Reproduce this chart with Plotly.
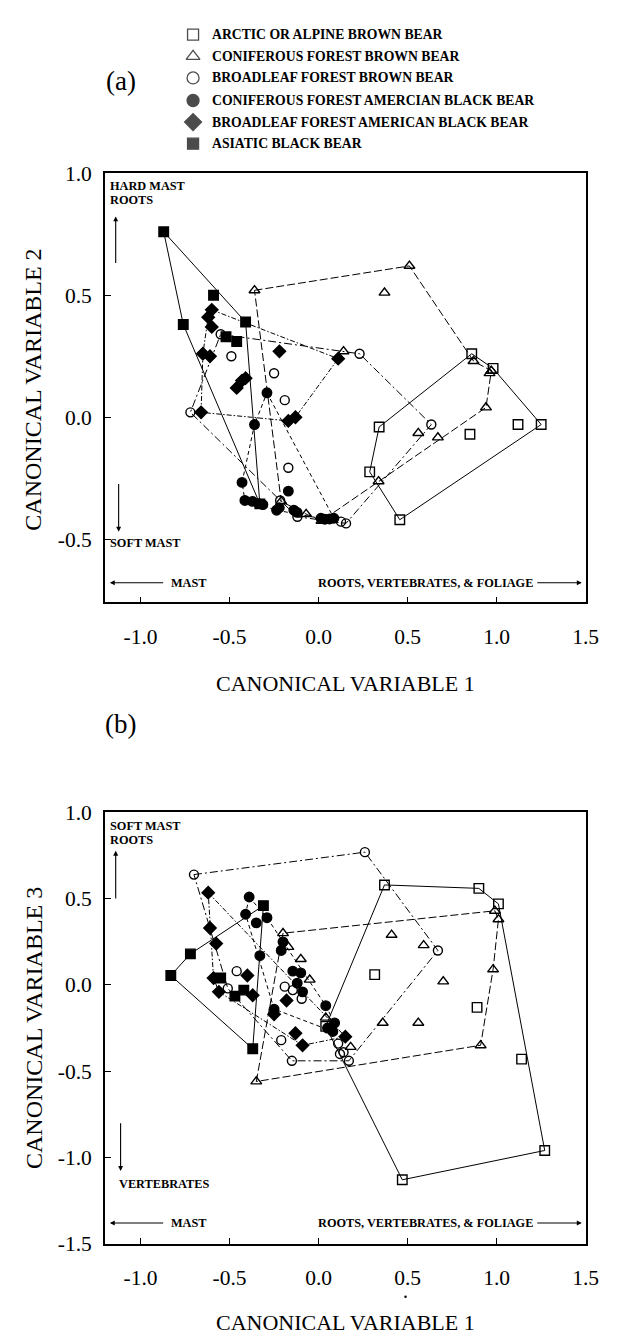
import plotly.graph_objects as go

W, H = 623, 1337
SERIF = "Liberation Serif"

# ---------------- legend / groups ----------------
group_names = [
    "ARCTIC OR ALPINE BROWN BEAR",
    "CONIFEROUS FOREST BROWN BEAR",
    "BROADLEAF FOREST BROWN BEAR",
    "CONIFEROUS FOREST AMERCIAN BLACK BEAR",
    "BROADLEAF FOREST AMERICAN BLACK BEAR",
    "ASIATIC BLACK BEAR",
]
group_symbols = ["square-open", "triangle-up-open", "circle-open", "circle", "diamond", "square"]
group_dashes = ["solid", "8px,3px", "8px,3px,2px,3px", "4px,3px", "5px,2px,1.5px,2px", "solid"]
x_ticks = [-1.0, -0.5, 0.0, 0.5, 1.0, 1.5]
y_ticks_a = [-0.5, 0.0, 0.5, 1.0]
y_ticks_b = [-1.5, -1.0, -0.5, 0.0, 0.5, 1.0]

# ---------------- panel (a): canonical variable 1 vs 2 ----------------
a_arctic_x = [0.86, 0.98, 1.25, 0.456, 0.287, 0.34, 1.12, 0.85]
a_arctic_y = [0.26, 0.20, -0.03, -0.42, -0.224, -0.04, -0.03, -0.07]
a_arctic_hull = [0, 1, 2, 3, 4, 5, 0]

a_conbrown_x = [-0.36, 0.51, 0.87, 0.97, 0.94, 0.337, 0.016, -0.07, -0.21, 0.37, 0.14, 0.96, 0.56, 0.67]
a_conbrown_y = [0.52, 0.62, 0.23, 0.19, 0.04, -0.263, -0.425, -0.397, -0.345, 0.51, 0.27, 0.18, -0.065, -0.083]
a_conbrown_hull = [0, 1, 2, 3, 4, 5, 6, 7, 8, 0]

a_broadbrown_x = [-0.55, 0.23, 0.633, 0.154, 0.126, -0.119, -0.216, -0.72, -0.49, -0.25, -0.19, -0.17]
a_broadbrown_y = [0.34, 0.26, -0.03, -0.435, -0.428, -0.408, -0.341, 0.02, 0.25, 0.18, 0.07, -0.207]
a_broadbrown_hull = [0, 1, 2, 3, 5, 6, 7, 0]

a_conblack_x = [-0.29, 0.086, 0.062, 0.035, -0.236, -0.414, -0.43, -0.36,
                -0.372, -0.335, -0.313, -0.17, -0.221, -0.139, -0.121, 0.013]
a_conblack_y = [0.10, -0.414, -0.417, -0.418, -0.381, -0.341, -0.267, -0.03,
                -0.345, -0.354, -0.358, -0.303, -0.371, -0.381, -0.39, -0.414]
a_conblack_hull = [0, 1, 2, 3, 4, 5, 6, 7, 0]

a_broadblack_x = [-0.60, 0.11, -0.13, -0.17, -0.66, -0.65, -0.62, -0.60, -0.61, -0.22, -0.41, -0.43, -0.46]
a_broadblack_y = [0.44, 0.24, 0.00, -0.015, 0.02, 0.26, 0.41, 0.37, 0.25, 0.27, 0.16, 0.15, 0.12]
a_broadblack_hull = [0, 1, 2, 3, 4, 5, 6, 0]

a_asiatic_x = [-0.87, -0.41, -0.33, -0.76, -0.59, -0.52, -0.46]
a_asiatic_y = [0.76, 0.39, -0.355, 0.38, 0.50, 0.33, 0.31]
a_asiatic_hull = [0, 1, 2, 3, 0]

# ---------------- panel (b): canonical variable 1 vs 3 ----------------
b_arctic_x = [0.37, 0.90, 1.01, 1.27, 0.47, 0.04, 0.315, 0.89, 1.14]
b_arctic_y = [0.58, 0.56, 0.47, -0.96, -1.13, -0.24, 0.06, -0.13, -0.43]
b_arctic_hull = [0, 1, 2, 3, 4, 5, 0]

b_conbrown_x = [-0.35, -0.20, 0.99, 1.01, 0.98, 0.91, -0.17, -0.10, -0.05, 0.04, 0.18,
                0.41, 0.59, 0.70, 0.36, 0.56]
b_conbrown_y = [-0.56, 0.30, 0.43, 0.38, 0.09, -0.35, 0.22, 0.15, 0.03, -0.19, -0.36,
                0.29, 0.23, 0.02, -0.22, -0.22]
b_conbrown_hull = [0, 1, 2, 3, 4, 5, 0]

b_broadbrown_x = [-0.70, 0.26, 0.67, 0.17, -0.15, -0.51, -0.46, -0.19, -0.145, -0.095,
                  -0.21, 0.11, 0.14, 0.12]
b_broadbrown_y = [0.64, 0.77, 0.20, -0.44, -0.44, -0.02, 0.08, -0.01, -0.03, -0.08,
                  -0.32, -0.34, -0.39, -0.40]
b_broadbrown_hull = [0, 1, 2, 3, 4, 5, 0]

b_conblack_x = [-0.39, -0.29, 0.04, 0.09, 0.08, -0.25, -0.41, -0.35, -0.33, -0.20, -0.21,
                -0.145, -0.10, -0.12, -0.09, 0.05]
b_conblack_y = [0.51, 0.39, -0.12, -0.22, -0.27, -0.14, 0.41, 0.36, 0.17, 0.25, 0.20,
                0.08, 0.07, 0.01, -0.04, -0.25]
b_conblack_hull = [0, 1, 2, 3, 4, 5, 6, 0]

b_broadblack_x = [-0.62, 0.15, -0.09, -0.56, -0.59, -0.61, -0.575, -0.37, -0.13, -0.18, -0.25, -0.40]
b_broadblack_y = [0.535, -0.30, -0.35, -0.04, 0.04, 0.33, 0.24, -0.06, -0.28, -0.09, -0.17, 0.055]
b_broadblack_hull = [0, 1, 2, 3, 4, 5, 0]

b_asiatic_x = [-0.31, -0.72, -0.83, -0.37, -0.55, -0.42, -0.47]
b_asiatic_y = [0.46, 0.18, 0.055, -0.37, 0.04, -0.03, -0.065]
b_asiatic_hull = [0, 1, 2, 3, 0]

panel_a = [
    (a_arctic_x, a_arctic_y, a_arctic_hull),
    (a_conbrown_x, a_conbrown_y, a_conbrown_hull),
    (a_broadbrown_x, a_broadbrown_y, a_broadbrown_hull),
    (a_conblack_x, a_conblack_y, a_conblack_hull),
    (a_broadblack_x, a_broadblack_y, a_broadblack_hull),
    (a_asiatic_x, a_asiatic_y, a_asiatic_hull),
]
panel_b = [
    (b_arctic_x, b_arctic_y, b_arctic_hull),
    (b_conbrown_x, b_conbrown_y, b_conbrown_hull),
    (b_broadbrown_x, b_broadbrown_y, b_broadbrown_hull),
    (b_conblack_x, b_conblack_y, b_conblack_hull),
    (b_broadblack_x, b_broadblack_y, b_broadblack_hull),
    (b_asiatic_x, b_asiatic_y, b_asiatic_hull),
]

fig = go.Figure()
marker_sizes = [9.5, 9.5, 9, 9.5, 9.5, 9.5]

for panel, xa, ya in [(panel_a, "x", "y"), (panel_b, "x2", "y2")]:
    for gi, (xs, ys, hull) in enumerate(panel):
        fig.add_trace(go.Scatter(
            x=[xs[i] for i in hull], y=[ys[i] for i in hull],
            mode="lines", line=dict(color="black", width=1, dash=group_dashes[gi]),
            xaxis=xa, yaxis=ya, showlegend=False, hoverinfo="skip"))
    for gi, (xs, ys, hull) in enumerate(panel):
        fig.add_trace(go.Scatter(
            x=xs, y=ys, mode="markers",
            marker=dict(symbol=group_symbols[gi], size=marker_sizes[gi], color="black",
                        line=dict(color="black", width=1.4)),
            xaxis=xa, yaxis=ya, showlegend=False, name=group_names[gi]))

# ---- pixel overlay axis (x3/y3) for legend, labels and arrows ----
leg_rows = [16, 38, 60, 83, 105, 127]
leg_sym_x = 189
leg_text_x = 206
fig.add_trace(go.Scatter(
    x=[leg_sym_x] * len(group_names), y=leg_rows, mode="markers",
    marker=dict(symbol=group_symbols, size=[11, 12, 12, 12, 13, 11], color="black",
                line=dict(color="black", width=1.3)),
    xaxis="x3", yaxis="y3", showlegend=False, hoverinfo="skip"))

# scan speck under the bottom x axis labels
fig.add_trace(go.Scatter(
    x=[406], y=[1301], mode="markers", marker=dict(symbol="circle", size=2.5, color="black"),
    xaxis="x3", yaxis="y3", showlegend=False, hoverinfo="skip"))

ann = []


def txt(x, y, s, font, xanchor="center", yanchor="middle", angle=0):
    ann.append(dict(x=x, y=y, xref="x3", yref="y3", text=s, showarrow=False,
                    xanchor=xanchor, yanchor=yanchor, textangle=angle, font=font))


def arrow(x0, y0, x1, y1):
    ann.append(dict(x=x1, y=y1, ax=x0, ay=y0, xref="x3", yref="y3", axref="x3", ayref="y3",
                    text="", showarrow=True, arrowhead=2, arrowsize=0.9, arrowwidth=1.1,
                    arrowcolor="black", standoff=0, startstandoff=0))


for name, yy in zip(group_names, leg_rows):
    txt(leg_text_x, yy, "<b>%s</b>" % name, dict(family=SERIF, size=13.7, color="black"), xanchor="left")

txt(115, 63, "(a)", dict(family=SERIF, size=27, color="black"))
txt(115, 718, "(b)", dict(family=SERIF, size=27, color="black"))

X0, X1 = 99, 590
a_top, a_bot = 157, 594
b_top, b_bot = 808, 1247
small = dict(family=SERIF, size=12.3, color="black")


def panel_text(top_label, bottom_label, top_px, up_head, up_tail, dn_x, dn_top, dn_bot,
               bottom_label_x, bottom_label_y, row):
    for i, t in enumerate(top_label):
        txt(102, top_px + 14 * i, "<b>%s</b>" % t, small, xanchor="left")
    arrow(110, up_tail, 110, up_head)
    arrow(dn_x, dn_top, dn_x, dn_bot)
    txt(bottom_label_x, bottom_label_y, "<b>%s</b>" % bottom_label, small, xanchor="left")
    arrow(160, row, 104, row)
    txt(164, row, "<b>MAST</b>", small, xanchor="left")
    txt(538, row, "<b>ROOTS, VERTEBRATES, &amp; FOLIAGE</b>", small, xanchor="right")
    arrow(539, row, 586, row)


panel_text(["HARD MAST", "ROOTS"], "SOFT MAST", 170, 201, 250, 113, 472, 522, 102, 534, 574)
panel_text(["SOFT MAST", "ROOTS"], "VERTEBRATES", 822, 847, 897, 115, 1123, 1173, 111, 1186, 1226)

title_font = dict(family=SERIF, size=22, color="black")
ytitle_font = dict(family=SERIF, size=24, color="black")
txt((X0 + X1) / 2, 677, "CANONICAL VARIABLE 1", title_font)
txt((X0 + X1) / 2, 1327, "CANONICAL VARIABLE 1", title_font)
txt(26, 377, "CANONICAL VARIABLE 2", ytitle_font, angle=-90)
txt(26, 1027, "CANONICAL VARIABLE 3", ytitle_font, angle=-90)

tickfont = dict(family=SERIF, size=21.5, color="black")
common_x = dict(range=[-1.2, 1.5], tickvals=x_ticks, ticktext=["%.1f" % v for v in x_ticks],
                ticks="inside", ticklen=6, tickwidth=1.3, tickcolor="black",
                showline=True, linecolor="black", linewidth=1.6, mirror=True,
                showgrid=False, zeroline=False, tickfont=tickfont, ticklabelstandoff=14,
                domain=[X0 / W, X1 / W], fixedrange=True)
common_y = dict(ticks="inside", ticklen=6, tickwidth=1.3, tickcolor="black",
                showline=True, linecolor="black", linewidth=1.6, mirror=True,
                showgrid=False, zeroline=False, tickfont=tickfont, ticklabelstandoff=7,
                fixedrange=True)

fig.update_layout(
    width=W, height=H, margin=dict(l=0, r=0, t=0, b=0),
    paper_bgcolor="white", plot_bgcolor="rgba(0,0,0,0)",
    xaxis=dict(common_x, anchor="y"),
    yaxis=dict(common_y, range=[1.0 - (a_bot - a_top) / 248.5, 1.0], tickvals=y_ticks_a,
               ticktext=["%.1f" % v for v in y_ticks_a],
               domain=[1 - a_bot / H, 1 - a_top / H], anchor="x"),
    xaxis2=dict(common_x, anchor="y2"),
    yaxis2=dict(common_y, range=[-1.5, 1.0], tickvals=y_ticks_b,
                ticktext=["%.1f" % v for v in y_ticks_b],
                domain=[1 - b_bot / H, 1 - b_top / H], anchor="x2"),
    xaxis3=dict(range=[0, W], domain=[0, 1], visible=False, fixedrange=True, anchor="y3"),
    yaxis3=dict(range=[H, 0], domain=[0, 1], visible=False, fixedrange=True, anchor="x3"),
    annotations=ann,
    showlegend=False,
)

fig.write_html("out.html")
